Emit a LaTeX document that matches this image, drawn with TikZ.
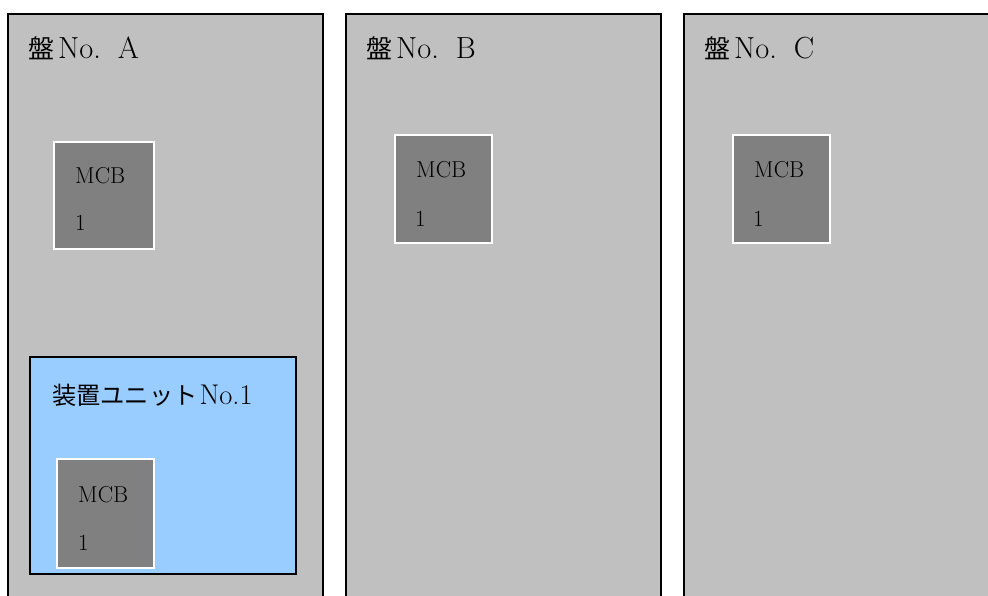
\documentclass[tikz,border=0pt]{standalone}
\usepackage{fontspec}
\newfontfamily\cjk[Scale=0.85]{Noto Sans CJK JP}
\definecolor{panelgray}{HTML}{C0C0C0}
\definecolor{mcbgray}{HTML}{808080}
\definecolor{unitblue}{HTML}{99CCFF}
\tikzset{
  panelbox/.style={draw=black, line width=1.5pt, fill=panelgray},
  mcbbox/.style={draw=white, line width=1.5pt, fill=mcbgray},
  unitbox/.style={draw=black, line width=1.5pt, fill=unitblue},
  titletext/.style={anchor=base west, inner sep=0pt, font=\fontsize{30.5}{34}\selectfont},
  unittext/.style={anchor=base west, inner sep=0pt, font=\fontsize{28.5}{32}\selectfont},
  mcbtext/.style={anchor=base west, inner sep=0pt, font=\fontsize{23}{27}\selectfont},
}
\begin{document}
\begin{tikzpicture}[x=1pt,y=-1pt]
\useasboundingbox (0,0) rectangle (988,596);
\fill[white] (0,0) rectangle (988,596);
\clip (0,0) rectangle (988,596);
% panels
\draw[panelbox] (8,14) rectangle (323,620);
\draw[panelbox] (346,14) rectangle (661,620);
\draw[panelbox] (684,14) rectangle (1010,620);
% titles
\node[titletext] (tA) at (28,59) {{\cjk 盤}\hspace{4pt}No.\hspace{17pt}A};
\node[titletext] (tB) at (366,59) {{\cjk 盤}\hspace{4pt}No.\hspace{17pt}B};
\node[titletext] (tC) at (704,59) {{\cjk 盤}\hspace{4pt}No.\hspace{17pt}C};
% MCBs in panels
\draw[mcbbox] (54,142) rectangle (154,249);
\node[mcbtext] (mA) at (75,184) {MCB};
\node[mcbtext] (nA) at (75,231) {1};
\draw[mcbbox] (395,135) rectangle (492,243);
\node[mcbtext] (mB) at (416,178) {MCB};
\node[mcbtext] (nB) at (415,226) {1};
\draw[mcbbox] (733,135) rectangle (830,243);
\node[mcbtext] (mC) at (754,178) {MCB};
\node[mcbtext] (nC) at (753,226) {1};
% unit
\draw[unitbox] (30,357) rectangle (296,574);
\node[unittext] (tU) at (52,404) {{\cjk 装置ユニット}\hspace{2pt}No.1};
\draw[mcbbox] (57,459) rectangle (154,568);
\node[mcbtext] (mU) at (78,502) {MCB};
\node[mcbtext] (nU) at (78,550) {1};
\end{tikzpicture}
\end{document}
